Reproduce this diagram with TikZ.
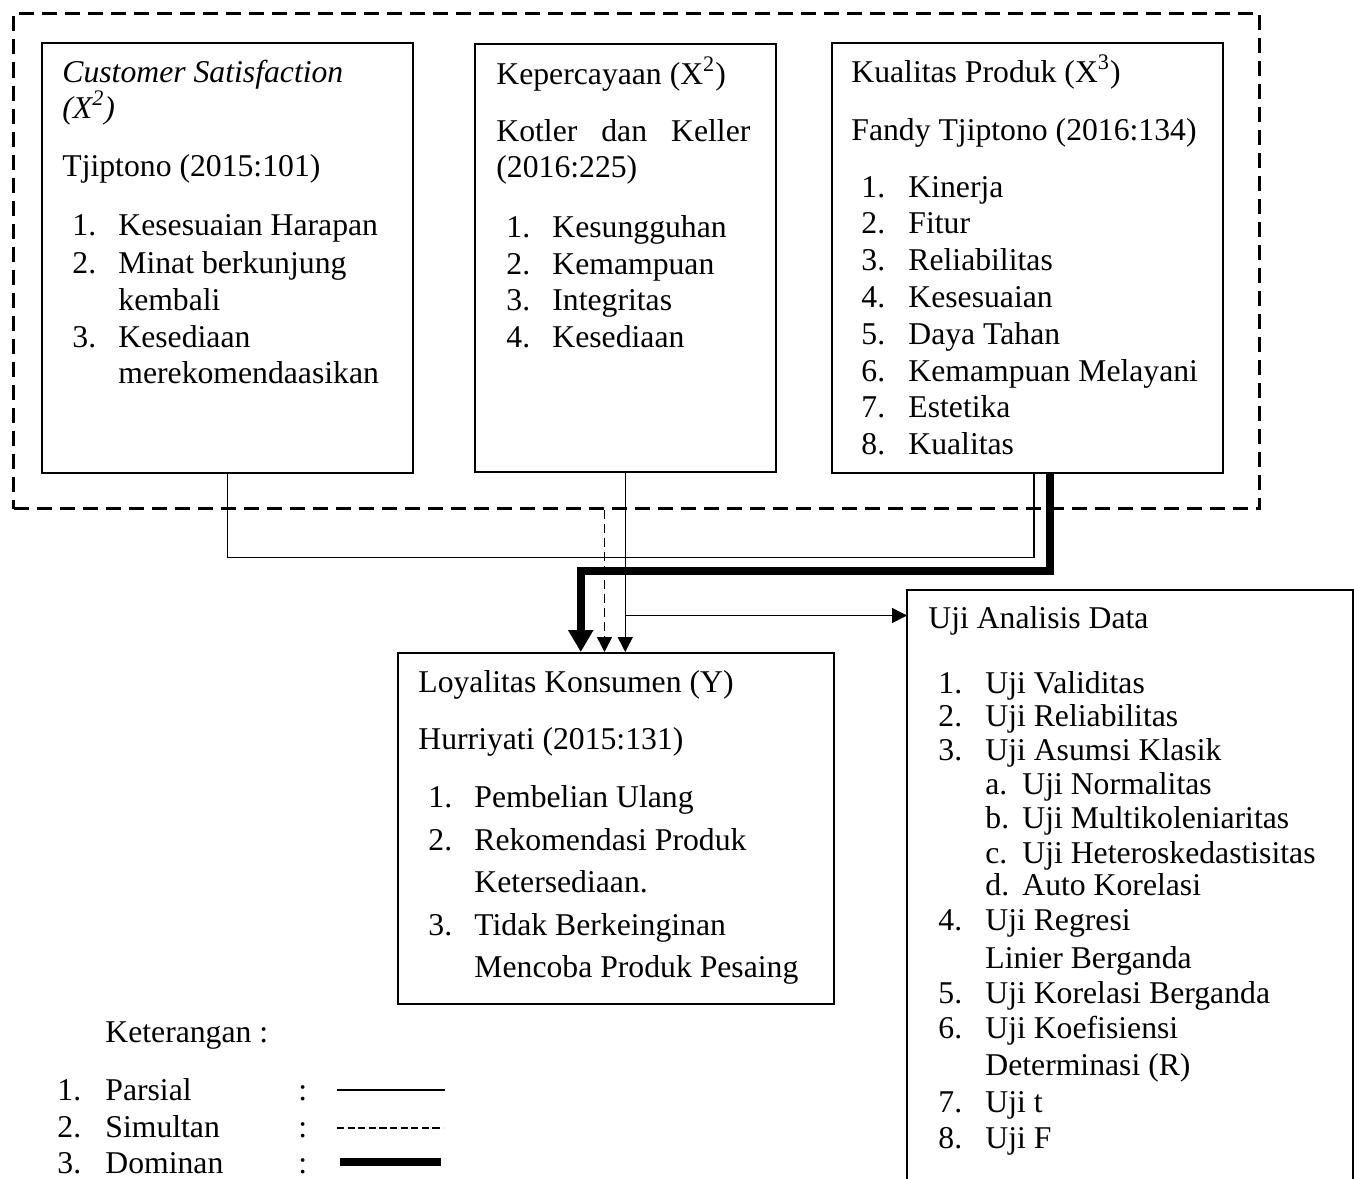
\documentclass[tikz,border=0pt]{standalone}
\usepackage{fontspec}
\setmainfont{Liberation Serif}
\usetikzlibrary{arrows.meta,calc}
\begin{document}
\begin{tikzpicture}[x=0.5pt,y=-0.5pt,
  font=\fontsize{15.85pt}{19pt}\selectfont,
  box/.style={draw,line width=0.75pt,inner sep=0pt,anchor=north west},
  txt/.style={anchor=base west,inner sep=0pt},
  conn/.style={line width=0.75pt},
  connarrow/.style={line width=0.75pt,-{Triangle[length=7.5pt,width=7.5pt]}},
  simarrow/.style={line width=0.75pt,dash pattern=on 4.5pt off 2.5pt,-{Triangle[length=7.5pt,width=7.5pt]}},
  domarrow/.style={line width=4pt,-{Triangle[length=11pt,width=12pt]}},
  groupbox/.style={draw,line width=1.5pt,dash pattern=on 7.5pt off 4pt,inner sep=0pt,anchor=north west}]
\fill[white] (0,0) rectangle (1354,1178);
\useasboundingbox (0,0) rectangle (1354,1178);

% dashed group
\node[groupbox,minimum width=623pt,minimum height=247.5pt] (group) at (12,12) {};

% boxes
\node[box,minimum width=185.5pt,minimum height=215pt] (b1) at (41,42) {};
\node[box,minimum width=150.5pt,minimum height=214pt] (b2) at (474,43) {};
\node[box,minimum width=195.5pt,minimum height=215pt] (b3) at (831,42) {};
\node[box,minimum width=218pt,minimum height=175.5pt] (loy) at (397,652) {};
\node[inner sep=0pt,anchor=north west,minimum width=222.5pt,minimum height=294pt] (uji) at (907,590) {};
\draw[line width=0.75pt] (uji.south west) -- (uji.north west) -- (uji.north east) -- (uji.south east);

% box 1 text
\node[txt] (b1h1) at (62,82) {\itshape Customer Satisfaction};
\node[txt] (b1h2) at (62,118) {\itshape (X\textsuperscript{2})};
\node[txt] (b1h3) at (62,176) {Tjiptono (2015:101)};
\node[txt] (b1n1) at (72,235) {1.};
\node[txt] (b1i1) at (118,235) {Kesesuaian Harapan};
\node[txt] (b1n2) at (72,273) {2.};
\node[txt] (b1i2) at (118,273) {Minat berkunjung};
\node[txt] (b1i2b) at (118,310) {kembali};
\node[txt] (b1n3) at (72,347) {3.};
\node[txt] (b1i3) at (118,347) {Kesediaan};
\node[txt] (b1i3b) at (118,383) {merekomendaasikan};

% box 2 text
\node[txt] (b2h1) at (496,84) {Kepercayaan (X\textsuperscript{2})};
\node[txt] (b2h2) at (496,141) {\makebox[127pt][s]{Kotler dan Keller}};
\node[txt] (b2h3) at (496,177) {(2016:225)};
\node[txt] (b2n1) at (506,237) {1.};
\node[txt] (b2i1) at (552,237) {Kesungguhan};
\node[txt] (b2n2) at (506,274) {2.};
\node[txt] (b2i2) at (552,274) {Kemampuan};
\node[txt] (b2n3) at (506,310) {3.};
\node[txt] (b2i3) at (552,310) {Integritas};
\node[txt] (b2n4) at (506,347) {4.};
\node[txt] (b2i4) at (552,347) {Kesediaan};

% box 3 text
\node[txt] (b3h1) at (851,82) {Kualitas Produk (X\textsuperscript{3})};
\node[txt] (b3h2) at (851,140) {Fandy Tjiptono (2016:134)};
\node[txt] (b3n1) at (861,197) {1.};
\node[txt] (b3i1) at (908,197) {Kinerja};
\node[txt] (b3n2) at (861,233) {2.};
\node[txt] (b3i2) at (908,233) {Fitur};
\node[txt] (b3n3) at (861,270) {3.};
\node[txt] (b3i3) at (908,270) {Reliabilitas};
\node[txt] (b3n4) at (861,307) {4.};
\node[txt] (b3i4) at (908,307) {Kesesuaian};
\node[txt] (b3n5) at (861,344) {5.};
\node[txt] (b3i5) at (908,344) {Daya Tahan};
\node[txt] (b3n6) at (861,381) {6.};
\node[txt] (b3i6) at (908,381) {Kemampuan Melayani};
\node[txt] (b3n7) at (861,417) {7.};
\node[txt] (b3i7) at (908,417) {Estetika};
\node[txt] (b3n8) at (861,454) {8.};
\node[txt] (b3i8) at (908,454) {Kualitas};

% loyalitas text
\node[txt] (lh1) at (418,692) {Loyalitas Konsumen (Y)};
\node[txt] (lh2) at (418,749) {Hurriyati (2015:131)};
\node[txt] (ln1) at (428,807) {1.};
\node[txt] (li1) at (474,807) {Pembelian Ulang};
\node[txt] (ln2) at (428,850) {2.};
\node[txt] (li2) at (474,850) {Rekomendasi Produk};
\node[txt] (li2b) at (474,892) {Ketersediaan.};
\node[txt] (ln3) at (428,935) {3.};
\node[txt] (li3) at (474,935) {Tidak Berkeinginan};
\node[txt] (li3b) at (474,977) {Mencoba Produk Pesaing};

% uji text
\node[txt] (uh) at (928,628) {Uji Analisis Data};
\node[txt] (un1) at (938,693) {1.};
\node[txt] (ui1) at (985,693) {Uji Validitas};
\node[txt] (un2) at (938,726) {2.};
\node[txt] (ui2) at (985,726) {Uji Reliabilitas};
\node[txt] (un3) at (938,760) {3.};
\node[txt] (ui3) at (985,760) {Uji Asumsi Klasik};
\node[txt] (usa) at (985,794) {a.};
\node[txt] (uia) at (1022,794) {Uji Normalitas};
\node[txt] (usb) at (985,828) {b.};
\node[txt] (uib) at (1022,828) {Uji Multikoleniaritas};
\node[txt] (usc) at (985,863) {c.};
\node[txt] (uic) at (1022,863) {Uji Heteroskedastisitas};
\node[txt] (usd) at (985,895) {d.};
\node[txt] (uid) at (1022,895) {Auto Korelasi};
\node[txt] (un4) at (938,930) {4.};
\node[txt] (ui4) at (985,930) {Uji Regresi};
\node[txt] (ui4b) at (985,968) {Linier Berganda};
\node[txt] (un5) at (938,1003) {5.};
\node[txt] (ui5) at (985,1003) {Uji Korelasi Berganda};
\node[txt] (un6) at (938,1038) {6.};
\node[txt] (ui6) at (985,1038) {Uji Koefisiensi};
\node[txt] (ui6b) at (985,1075) {Determinasi (R)};
\node[txt] (un7) at (938,1112) {7.};
\node[txt] (ui7) at (985,1112) {Uji t};
\node[txt] (un8) at (938,1148) {8.};
\node[txt] (ui8) at (985,1148) {Uji F};

% legend
\node[txt] (kh) at (105,1042) {Keterangan :};
\node[txt] (kn1) at (57,1100) {1.};
\node[txt] (ki1) at (105,1100) {Parsial};
\node[txt] (kc1) at (298,1100) {:};
\node[txt] (kn2) at (57,1137) {2.};
\node[txt] (ki2) at (105,1137) {Simultan};
\node[txt] (kc2) at (298,1137) {:};
\node[txt] (kn3) at (57,1173) {3.};
\node[txt] (ki3) at (105,1173) {Dominan};
\node[txt] (kc3) at (298,1173) {:};
\coordinate (l1a) at (337,1090); \coordinate (l1b) at (445,1090);
\coordinate (l2a) at (337,1128); \coordinate (l2b) at (443,1128);
\coordinate (l3a) at (340,1162); \coordinate (l3b) at (441,1162);
\draw[conn] (l1a) -- (l1b);
\draw[line width=0.75pt,dash pattern=on 3.6pt off 1.7pt] (l2a) -- (l2b);
\draw[line width=3.6pt] (l3a) -- (l3b);

% connectors
\draw[conn] (b1.south) -- ++(0,84) -| ($(b3.south)+(6.5,0)$);
\draw[connarrow] (b2.south) -- (loy.north -| b2.south);
\coordinate (split) at ($(b2.south)+(0,143)$);
\draw[connarrow] (split) -- (uji.west |- split);
\draw[simarrow] ($(group.south)+(-32,0)$) -- (loy.north -| {$(group.south)+(-32,0)$});
\draw[domarrow] ($(b3.south)+(22.5,0)$) -- ++(0,97) -| ($(loy.north)+(-35,0)$);
\end{tikzpicture}
\end{document}
